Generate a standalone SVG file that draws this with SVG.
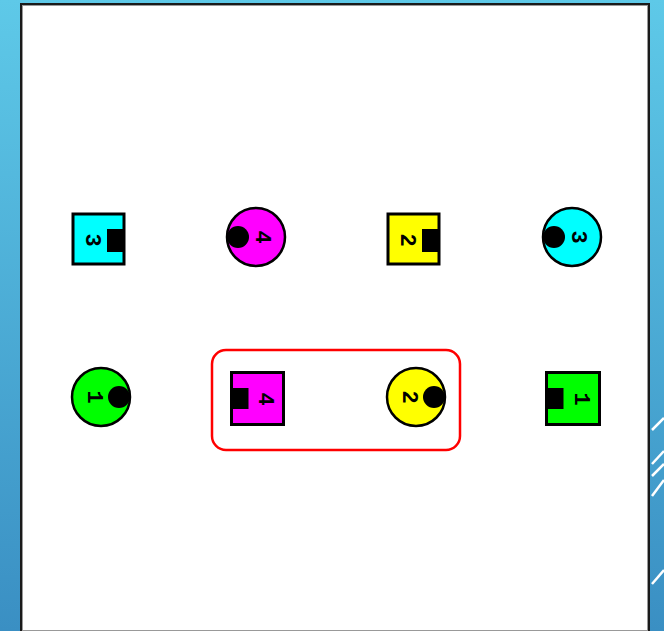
<svg xmlns="http://www.w3.org/2000/svg" width="664" height="631" viewBox="0 0 664 631">
<defs>
<linearGradient id="bg" x1="0" y1="0" x2="0" y2="1">
<stop offset="0" stop-color="#5ec9e8"/>
<stop offset="1" stop-color="#3a8fc3"/>
</linearGradient>
<style>
.sq{stroke:#000;stroke-width:3}
.ci{stroke:#000;stroke-width:2.5}
.blk{fill:#000}
.dig{font-family:"Liberation Mono",monospace;font-weight:bold;font-size:22px;fill:#000;text-anchor:middle;dominant-baseline:central}
.deco{stroke:#fff;stroke-width:2.5}
</style>
</defs>
<rect x="0" y="0" width="664" height="631" fill="url(#bg)"/>
<g id="deco">
<line class="deco" x1="652" y1="430" x2="664" y2="418"/>
<line class="deco" x1="652" y1="464" x2="664" y2="451"/>
<line class="deco" x1="652" y1="476" x2="664" y2="464"/>
<line class="deco" x1="652" y1="496" x2="664" y2="480"/>
<line class="deco" x1="652" y1="584" x2="664" y2="570"/>
</g>
<rect x="21" y="4" width="628" height="628" fill="#fff" stroke="#1a1a1a" stroke-width="2"/>
<rect x="22.5" y="5.5" width="625" height="625" fill="none" stroke="#999" stroke-width="1"/>
<g id="connectors"></g>
<g id="group-box">
<rect x="212" y="350" width="248" height="100" rx="14" fill="none" stroke="#ff0000" stroke-width="2.5"/>
</g>
<g id="n-cyan-square-3">
<rect class="sq" x="73" y="214" width="51" height="50" fill="#00ffff"/>
<rect class="blk" x="107" y="229" width="17" height="23"/>
<text class="dig" x="91" y="240" transform="rotate(90 91 240)">3</text>
</g>
<g id="n-magenta-circle-4">
<circle cx="256" cy="237" r="29" fill="#ff00ff"/>
<circle class="blk" cx="238" cy="237" r="11"/>
<circle class="ci" cx="256" cy="237" r="29" fill="none"/>
<text class="dig" x="261" y="237" transform="rotate(90 261 237)">4</text>
</g>
<g id="n-yellow-square-2">
<rect class="sq" x="388" y="214" width="51" height="50" fill="#ffff00"/>
<rect class="blk" x="422" y="229" width="17" height="23"/>
<text class="dig" x="406" y="240" transform="rotate(90 406 240)">2</text>
</g>
<g id="n-cyan-circle-3">
<circle cx="572" cy="237" r="29" fill="#00ffff"/>
<circle class="blk" cx="554" cy="237" r="11"/>
<circle class="ci" cx="572" cy="237" r="29" fill="none"/>
<text class="dig" x="577" y="237" transform="rotate(90 577 237)">3</text>
</g>
<g id="n-green-circle-1">
<circle cx="101" cy="397" r="29" fill="#00ff00"/>
<circle class="blk" cx="119" cy="397" r="11"/>
<circle class="ci" cx="101" cy="397" r="29" fill="none"/>
<text class="dig" x="93" y="397" transform="rotate(90 93 397)">1</text>
</g>
<g id="n-magenta-square-4">
<rect class="sq" x="231.5" y="372.5" width="52" height="52" fill="#ff00ff"/>
<rect class="blk" x="231.5" y="388" width="17" height="21"/>
<text class="dig" x="264" y="399" transform="rotate(90 264 399)">4</text>
</g>
<g id="n-yellow-circle-2">
<circle cx="416" cy="397" r="29" fill="#ffff00"/>
<circle class="blk" cx="434" cy="397" r="11"/>
<circle class="ci" cx="416" cy="397" r="29" fill="none"/>
<text class="dig" x="408" y="397" transform="rotate(90 408 397)">2</text>
</g>
<g id="n-green-square-1">
<rect class="sq" x="546.5" y="372.5" width="53" height="52" fill="#00ff00"/>
<rect class="blk" x="546.5" y="388" width="17" height="21"/>
<text class="dig" x="580" y="399" transform="rotate(90 580 399)">1</text>
</g>
</svg>
